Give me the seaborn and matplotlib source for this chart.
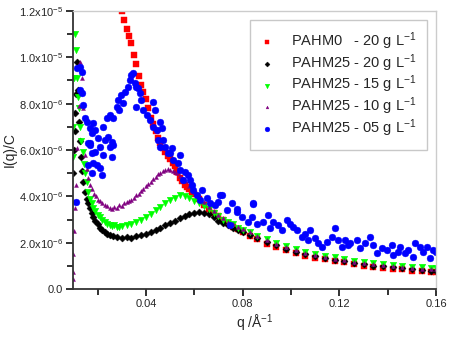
import numpy as np
import pandas as pd
import seaborn as sns
import matplotlib.pyplot as plt

# values, I(q)/C in units of 1e-6
q_red = [0.030, 0.031, 0.032, 0.033, 0.034, 0.035, 0.036, 0.037, 0.038, 0.039,
         0.040, 0.041, 0.042, 0.043, 0.044, 0.045, 0.046, 0.047, 0.048, 0.049,
         0.050, 0.051, 0.052, 0.053, 0.054, 0.055, 0.056, 0.057, 0.058, 0.059,
         0.060, 0.062, 0.064, 0.066, 0.068, 0.070,
         0.072, 0.074, 0.076, 0.078, 0.080, 0.083, 0.086, 0.090, 0.094, 0.098,
         0.102, 0.106, 0.110, 0.114, 0.118, 0.122, 0.126, 0.130, 0.134, 0.138,
         0.142, 0.146, 0.150, 0.154, 0.158, 0.160]
i_red = [12.0, 11.6, 11.2, 10.9, 10.6, 10.1, 9.7, 9.2, 8.8, 8.5,
         8.2, 7.8, 7.4, 7.1, 6.8, 6.5, 6.3, 6.1, 5.9, 5.75,
         5.6, 5.45, 5.3, 5.05, 4.8, 4.65, 4.5, 4.4, 4.3, 4.2,
         4.1, 3.9, 3.65, 3.45, 3.3, 3.15,
         3.0, 2.85, 2.7, 2.6, 2.45, 2.3, 2.15, 1.95, 1.8, 1.7,
         1.55, 1.45, 1.35, 1.3, 1.2, 1.15, 1.07, 1.0, 0.97, 0.93,
         0.88, 0.85, 0.8, 0.78, 0.75, 0.73]

q_black = [0.0100, 0.0102, 0.0105, 0.0108, 0.0112, 0.0116, 0.0119, 0.0122, 0.0126, 0.0130,
           0.0135, 0.0140, 0.0148, 0.0155, 0.0162, 0.0169, 0.0176, 0.0183, 0.0190, 0.0200,
           0.021, 0.022, 0.023, 0.024, 0.025, 0.0265, 0.028, 0.030, 0.032, 0.034,
           0.036, 0.038, 0.040, 0.042, 0.044, 0.046, 0.048, 0.050, 0.052, 0.054,
           0.056, 0.058, 0.060, 0.062, 0.064, 0.066, 0.068, 0.070, 0.072, 0.074,
           0.076, 0.078, 0.080, 0.083, 0.086, 0.090, 0.094, 0.098, 0.102, 0.106,
           0.110, 0.114, 0.118, 0.122, 0.126, 0.130, 0.134, 0.138, 0.142, 0.146,
           0.150, 0.154, 0.158, 0.160]
i_black = [5.0, 6.0, 6.8, 7.6, 8.4, 9.8, 8.6, 7.2, 6.4, 5.7,
           5.1, 4.6, 4.2, 3.9, 3.7, 3.5, 3.3, 3.1, 2.95, 2.8,
           2.65, 2.55, 2.45, 2.4, 2.35, 2.3, 2.25, 2.2, 2.25, 2.22,
           2.28, 2.32, 2.4, 2.48, 2.55, 2.65, 2.75, 2.85, 2.95, 3.05,
           3.15, 3.22, 3.3, 3.32, 3.3, 3.25, 3.1, 2.95, 2.85, 2.75,
           2.65, 2.55, 2.45, 2.35, 2.2, 2.05, 1.9, 1.75, 1.62, 1.52,
           1.42, 1.35, 1.27, 1.2, 1.12, 1.07, 1.02, 0.98, 0.94, 0.9,
           0.86, 0.83, 0.8, 0.8]

q_green = [0.0099, 0.0100, 0.0102, 0.0106, 0.0110, 0.0113, 0.0118, 0.0123, 0.0128, 0.0133,
           0.0138, 0.0143, 0.0148, 0.0155, 0.0162, 0.0169, 0.0176, 0.0183, 0.0190, 0.0200,
           0.021, 0.022, 0.023, 0.024, 0.025, 0.026, 0.027, 0.028, 0.029, 0.030,
           0.032, 0.034, 0.036, 0.038, 0.040, 0.042, 0.044, 0.046, 0.048, 0.050,
           0.052, 0.054, 0.056, 0.058, 0.060, 0.062, 0.064, 0.066, 0.068, 0.070,
           0.072, 0.074, 0.076, 0.078, 0.080, 0.083, 0.086, 0.090, 0.094, 0.098,
           0.102, 0.106, 0.110, 0.114, 0.118, 0.122, 0.126, 0.130, 0.134, 0.138,
           0.142, 0.146, 0.150, 0.154, 0.158, 0.160]
i_green = [5.7, 7.0, 9.1, 11.0, 10.3, 9.1, 8.3, 7.8, 7.0, 6.4,
           5.9, 5.4, 5.0, 4.6, 4.2, 3.9, 3.7, 3.5, 3.35, 3.2,
           3.1, 3.0, 2.9, 2.82, 2.76, 2.72, 2.75, 2.68, 2.7, 2.72,
           2.75, 2.82, 2.9, 3.0, 3.1, 3.25, 3.4, 3.55, 3.7, 3.85,
           3.95, 4.05, 4.0, 3.92, 3.82, 3.72, 3.6, 3.45, 3.3, 3.15,
           3.0, 2.9, 2.8, 2.65, 2.55, 2.45, 2.3, 2.15, 2.0, 1.85,
           1.72, 1.62, 1.52, 1.45, 1.38, 1.3, 1.22, 1.17, 1.12, 1.08,
           1.04, 1.0, 0.97, 0.94, 0.92, 0.92]

q_purple = [0.0098, 0.0099, 0.0100, 0.0102, 0.0106, 0.0111, 0.0116, 0.0122, 0.0127, 0.0134,
            0.0141, 0.0148, 0.0155, 0.0162, 0.0170, 0.0178, 0.0186, 0.0194, 0.0202, 0.021,
            0.022, 0.023, 0.024, 0.025, 0.026, 0.027, 0.028, 0.029, 0.030, 0.031,
            0.032, 0.033, 0.034, 0.035, 0.036, 0.037, 0.038, 0.039, 0.040, 0.041,
            0.042, 0.043, 0.044, 0.045, 0.046, 0.047, 0.048, 0.049, 0.050, 0.051,
            0.052, 0.053, 0.054, 0.055, 0.056, 0.058, 0.060, 0.062, 0.064, 0.066,
            0.068, 0.070, 0.072, 0.074, 0.076, 0.078, 0.080, 0.083, 0.086, 0.090,
            0.094, 0.098, 0.102, 0.106, 0.110, 0.114, 0.118, 0.122, 0.126, 0.130,
            0.134, 0.138, 0.142, 0.146, 0.150, 0.154, 0.158, 0.160]
i_purple = [0.45, 0.75, 1.5, 2.5, 3.5, 4.5, 6.1, 7.9, 9.8, 9.1,
            7.8, 5.8, 5.2, 4.8, 4.5, 4.3, 4.1, 4.0, 3.85, 3.8,
            3.7, 3.62, 3.6, 3.5, 3.45, 3.55, 3.5, 3.62, 3.6, 3.7,
            3.75, 3.8, 3.85, 3.95, 4.05, 4.1, 4.25, 4.3, 4.45, 4.55,
            4.6, 4.75, 4.85, 4.95, 5.0, 5.1, 5.15, 5.2, 5.15, 5.1,
            5.05, 5.0, 4.9, 4.8, 4.65, 4.45, 4.2, 3.95, 3.75, 3.55,
            3.35, 3.2, 3.05, 2.9, 2.8, 2.7, 2.6, 2.45, 2.3, 2.1,
            1.95, 1.82, 1.7, 1.58, 1.48, 1.4, 1.32, 1.25, 1.18, 1.12,
            1.08, 1.03, 0.98, 0.95, 0.92, 0.88, 0.86, 0.85]

q_blue = [0.0111, 0.0116, 0.0127, 0.0134, 0.0127, 0.0134, 0.0141, 0.0148, 0.0155, 0.0160,
          0.0160, 0.0169, 0.0169, 0.0169, 0.0175, 0.0175, 0.0175, 0.0182, 0.0182, 0.0190,
          0.0190, 0.0196, 0.0202, 0.0210, 0.0210, 0.0217, 0.0223, 0.0223, 0.0230, 0.0237,
          0.0244, 0.0251, 0.0251, 0.0258, 0.0258, 0.0265, 0.0265, 0.0279, 0.0286, 0.0290,
          0.0299, 0.0306, 0.0313, 0.0327, 0.0334, 0.0340, 0.0347, 0.0354, 0.0360, 0.0360,
          0.0368, 0.0375, 0.0380, 0.0389, 0.0403, 0.0416, 0.0430, 0.0430, 0.0437, 0.0444,
          0.0451, 0.0458, 0.0458, 0.0465, 0.0472, 0.0478, 0.0492, 0.0500, 0.0506, 0.0513,
          0.0534, 0.0541, 0.0541, 0.0554, 0.0561, 0.0575, 0.0582, 0.0589, 0.0596, 0.0610,
          0.0623, 0.0630, 0.0651, 0.0665, 0.0685, 0.0699, 0.0706, 0.0713, 0.0734, 0.0747,
          0.0754, 0.0775, 0.0775, 0.0796, 0.0823, 0.0837, 0.0844, 0.0844, 0.0858, 0.0885,
          0.0906, 0.0913, 0.0927, 0.0947, 0.0961, 0.0982, 0.0996, 0.1009, 0.1023, 0.1044,
          0.1058, 0.1071, 0.1078, 0.1100, 0.1113, 0.1127, 0.1148, 0.1168, 0.1182, 0.1196,
          0.1210, 0.1223, 0.1237, 0.1244, 0.1271, 0.1285, 0.1306, 0.1327, 0.1341, 0.1354,
          0.1375, 0.1396, 0.1416, 0.1423, 0.1444, 0.1451, 0.1471, 0.1485, 0.1506, 0.1513,
          0.1534, 0.1547, 0.1561, 0.1575, 0.1589, 0.1600]
i_blue = [3.77, 9.53, 9.6, 9.38, 8.6, 8.45, 7.94, 7.38, 7.22, 6.29,
          5.35, 6.95, 6.29, 6.22, 6.72, 5.86, 5.0, 7.17, 5.43, 6.86,
          5.93, 5.35, 6.52, 6.14, 5.21, 4.92, 7.0, 5.79, 6.43, 7.38,
          6.57, 7.51, 6.14, 6.36, 5.71, 7.38, 6.22, 7.87, 8.16, 7.73,
          8.37, 8.02, 8.52, 8.73, 9.02, 9.24, 9.31, 8.88, 8.73, 7.87,
          8.66, 8.45, 8.16, 7.73, 7.51, 7.3, 8.09, 7.0, 7.73, 6.86,
          6.43, 6.14, 7.22, 6.94, 6.43, 6.14, 5.86, 5.86, 6.07, 5.57,
          5.43, 5.79, 5.14, 4.71, 5.06, 4.92, 4.71, 4.49, 4.27, 4.06,
          3.84, 4.27, 3.92, 3.7, 3.63, 3.77, 4.06, 4.06, 3.41, 2.76,
          3.7, 3.44, 3.34, 3.12, 2.9, 3.12, 3.7, 3.66, 2.83, 2.9,
          3.2, 2.62, 2.9, 2.76, 2.55, 2.98, 2.83, 2.69, 2.55, 2.26,
          2.4, 2.12, 2.55, 2.19, 1.97, 1.83, 2.04, 2.26, 2.62, 2.12,
          1.83, 2.12, 1.9, 1.97, 2.12, 1.76, 1.97, 2.26, 1.9, 1.54,
          1.76, 1.68, 1.9, 1.47, 1.61, 1.83, 1.54, 1.68, 1.39, 1.97,
          1.83, 1.61, 1.83, 1.33, 1.68, 1.61]

labels = ['PAHM0   - 20 g L$^{-1}$', 'PAHM25 - 20 g L$^{-1}$', 'PAHM25 - 15 g L$^{-1}$',
          'PAHM25 - 10 g L$^{-1}$', 'PAHM25 - 05 g L$^{-1}$']
ytick_labels = ['0.0', '2.0x10$^{-6}$', '4.0x10$^{-6}$', '6.0x10$^{-6}$',
                '8.0x10$^{-6}$', '1.0x10$^{-5}$', '1.2x10$^{-5}$']

series = [(q_red, i_red, '#ff0000', 's', 14),
          (q_black, i_black, '#000000', 'D', 13),
          (q_green, i_green, '#00ff00', 'v', 22),
          (q_purple, i_purple, '#800080', '^', 8),
          (q_blue, i_blue, '#0000ff', 'o', 24)]

sns.set_style('ticks')
plt.rcParams['font.family'] = ['Liberation Sans', 'DejaVu Sans']
plt.rcParams['mathtext.default'] = 'regular'

fig, ax = plt.subplots(figsize=(4.5, 3.39), dpi=100)
fig.subplots_adjust(left=0.162, right=0.969, top=0.968, bottom=0.147)

for (q, i, color, marker, size), label in zip(series, labels):
    df = pd.DataFrame({'q': q, 'I': np.array(i) * 1e-6})
    sns.scatterplot(data=df, x='q', y='I', ax=ax, color=color, marker=marker,
                    s=size, edgecolor=color, linewidth=0.3, label=label)

ax.set_xlim(0.0098, 0.16)
ax.set_ylim(0, 1.2e-5)
ax.set_xticks([0.04, 0.08, 0.12, 0.16])
ax.set_xticklabels(['0.04', '0.08', '0.12', '0.16'])
ax.set_xticks([0.02, 0.06, 0.10, 0.14], minor=True)
ax.set_yticks(np.arange(7) * 2e-6)
ax.set_yticklabels(ytick_labels)
ax.set_yticks(np.arange(6) * 2e-6 + 1e-6, minor=True)
ax.tick_params(axis='both', which='both', direction='out', width=1.3, color='#222222')
ax.tick_params(axis='both', which='major', length=5, labelsize=8, pad=2)
ax.tick_params(axis='both', which='minor', length=4)

for side in ['left', 'bottom']:
    ax.spines[side].set_color('#333333')
    ax.spines[side].set_linewidth(1.3)
for side in ['top', 'right']:
    ax.spines[side].set_visible(True)
    ax.spines[side].set_color('#cccccc')
    ax.spines[side].set_linewidth(1)

ax.set_xlabel('q /Å$^{-1}$', fontsize=10, labelpad=3)
ax.set_ylabel('I(q)/C', fontsize=10, labelpad=2)

leg = ax.legend(loc='upper right', bbox_to_anchor=(0.975, 0.968), borderaxespad=0,
                fontsize=10.5, frameon=True, fancybox=False, edgecolor='#bbbbbb',
                borderpad=0.75, labelspacing=0.0, handlelength=0.8,
                handletextpad=1.2, markerscale=0.7)
leg.get_frame().set_linewidth(1)

fig.savefig('out.png', dpi=100)
